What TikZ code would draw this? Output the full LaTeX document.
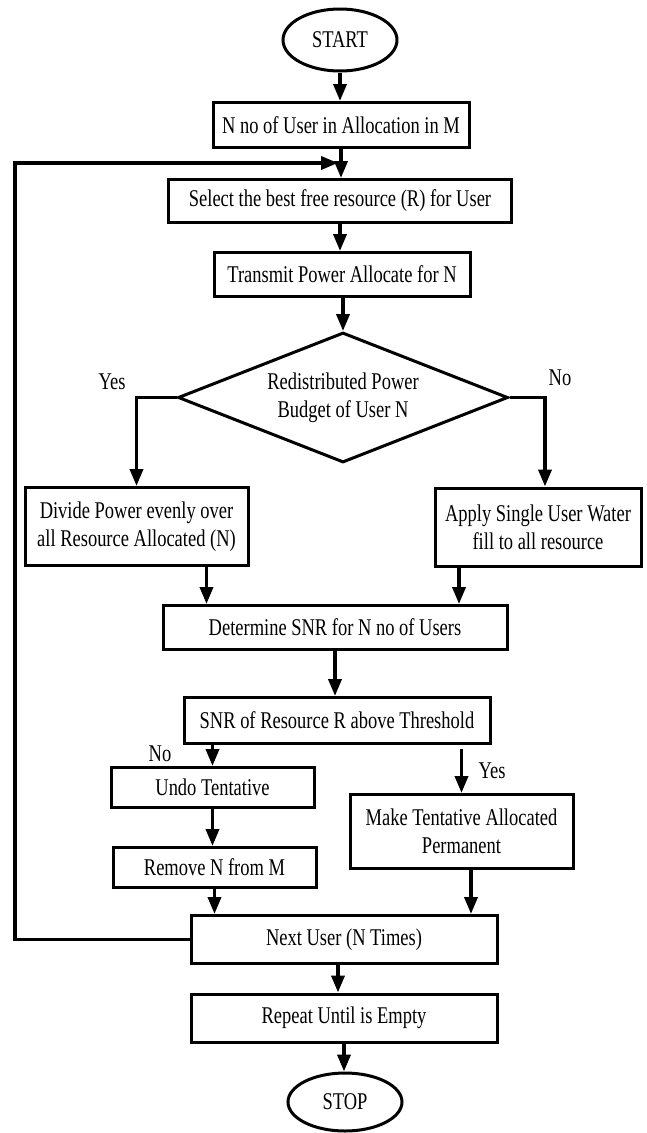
\documentclass[tikz,border=0pt]{standalone}
\usepackage{fontspec}
\setmainfont{Liberation Serif}[FakeStretch=0.77]
\usetikzlibrary{shapes.geometric,arrows.meta}
\begin{document}
\begin{tikzpicture}[x=1pt,y=-1pt,
  txt/.style={font=\fontsize{24}{28}\selectfont},
  box/.style={draw,line width=3pt,inner sep=0pt,align=center,txt},
  term/.style={draw,ellipse,line width=3pt,inner sep=0pt,txt},
  dec/.style={draw,diamond,aspect=2.54,line width=3pt,inner sep=0pt,align=center,txt},
  arr/.style={line width=3.6pt,-{Triangle[length=17pt,width=13pt]}},
  lbl/.style={txt,inner sep=0pt}]
\useasboundingbox (0,0) rectangle (647,1133);

\node[term,minimum width=114pt,minimum height=62pt] (start) at (340,40) {START};
\node[box,minimum width=256pt,minimum height=45pt] (b1) at (341,125) {N no of User in Allocation in M};
\node[box,minimum width=343pt,minimum height=43pt] (b2) at (340,201) {Select the best free resource (R) for User};
\node[box,minimum width=256pt,minimum height=44pt] (b3) at (342,274.5) {Transmit Power Allocate for N};
\node[dec,minimum width=330pt,minimum height=130pt] (dia) at (343,397.5) {Redistributed Power\\Budget of User N};
\node[box,minimum width=223pt,minimum height=78pt] (b4) at (136.5,526.5) {Divide Power evenly over\\all Resource Allocated (N)};
\node[box,minimum width=206pt,minimum height=78pt] (b5) at (538,527) {Apply Single User Water\\fill to all resource};
\node[box,minimum width=344pt,minimum height=44pt] (b6) at (335,627.5) {Determine SNR for N no of Users};
\node[box,minimum width=306pt,minimum height=46pt] (b7) at (337,720.5) {SNR of Resource R above Threshold};
\node[box,minimum width=203pt,minimum height=40pt] (undo) at (212.5,787.5) {Undo Tentative};
\node[box,minimum width=203pt,minimum height=40pt] (remove) at (214.5,867.5) {Remove N from M};
\node[box,minimum width=223pt,minimum height=74pt] (make) at (461.5,831.5) {Make Tentative Allocated\\Permanent};
\node[box,minimum width=306pt,minimum height=48pt] (next) at (344,939.5) {Next User (N Times)};
\node[box,minimum width=306pt,minimum height=48pt] (rep) at (344,1018) {Repeat Until is Empty};
\node[term,minimum width=114pt,minimum height=58pt] (stop) at (345,1102) {STOP};

\node[lbl] (yes1) at (112,382) {Yes};
\node[lbl] (no1) at (560,378) {No};
\node[lbl] (no2) at (160,754) {No};
\node[lbl] (yes2) at (492,771) {Yes};

\coordinate (lp) at (15,163);
\coordinate (lj) at (338,163);

\draw[arr] (start.south) -- (start.south |- b1.north);
\draw[arr] (b1.south) -- (b1.south |- b2.north);
\draw[arr] (next.west) -| (lp) -- (lj);
\draw[arr] (b2.south) -- (b2.south |- b3.north);
\draw[arr] (b3.south -| dia.north) -- (dia.north);
\draw[arr] (dia.west) -| (b4.north);
\draw[arr] (dia.east) -| ([xshift=7pt]b5.north);
\draw[arr] ([xshift=70pt]b4.south) -- ([xshift=70pt]b4.south |- b6.north);
\draw[arr] ([xshift=-79pt]b5.south) -- ([xshift=-79pt]b5.south |- b6.north);
\draw[arr] (b6.south) -- (b6.south |- b7.north);
\draw[arr] (undo.north |- b7.south) -- (undo.north);
\draw[arr] ([yshift=-4pt]make.north |- b7.south) -- (make.north);
\draw[arr] (undo.south) -- (undo.south |- remove.north);
\draw[arr] (remove.south) -- (remove.south |- next.north);
\draw[arr] ([xshift=9.5pt]make.south) -- ([xshift=9.5pt]make.south |- next.north);
\draw[arr] ([xshift=-6pt]next.south) -- ([xshift=-6pt]next.south |- rep.north);
\draw[arr] (rep.south) -- (rep.south |- stop.north);
\end{tikzpicture}
\end{document}
